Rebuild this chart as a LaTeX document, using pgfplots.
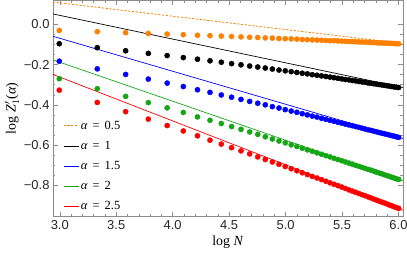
\documentclass[border=0pt]{standalone}
\usepackage{fontspec}
\setmainfont{Liberation Serif}
\newfontfamily\tickfont{Liberation Sans}
\usepackage{pgfplots}
\pgfplotsset{compat=1.18}
\usepackage{pgfplotstable}
\usetikzlibrary{calc}
\definecolor{mOrange}{rgb}{1,0.5,0}
\definecolor{mGreen}{rgb}{0.08,0.65,0.08}
\definecolor{mBlue}{rgb}{0,0,1}
\definecolor{mRed}{rgb}{1,0,0}
\definecolor{frameGray}{gray}{0.55}

\pgfplotstableread{
x O K B G R
2.9957 -0.030 -0.096 -0.183 -0.270 -0.327
3.3322 -0.036 -0.116 -0.221 -0.320 -0.388
3.5835 -0.041 -0.131 -0.249 -0.358 -0.434
3.7842 -0.045 -0.144 -0.272 -0.389 -0.471
3.9512 -0.048 -0.155 -0.292 -0.415 -0.503
4.0943 -0.051 -0.165 -0.309 -0.438 -0.530
4.2195 -0.054 -0.173 -0.325 -0.460 -0.554
4.3307 -0.056 -0.181 -0.338 -0.477 -0.576
4.4308 -0.058 -0.188 -0.351 -0.493 -0.595
4.5218 -0.060 -0.195 -0.362 -0.508 -0.613
4.6052 -0.062 -0.201 -0.373 -0.522 -0.629
4.6821 -0.064 -0.207 -0.383 -0.535 -0.644
4.7536 -0.065 -0.212 -0.392 -0.547 -0.659
4.8203 -0.067 -0.217 -0.400 -0.559 -0.672
4.8828 -0.068 -0.222 -0.409 -0.570 -0.684
4.9416 -0.070 -0.227 -0.416 -0.580 -0.696
4.9972 -0.071 -0.231 -0.424 -0.589 -0.707
5.0499 -0.072 -0.235 -0.431 -0.599 -0.718
5.0999 -0.073 -0.239 -0.437 -0.607 -0.728
5.1475 -0.075 -0.243 -0.444 -0.616 -0.738
5.1930 -0.076 -0.246 -0.450 -0.624 -0.747
5.2364 -0.077 -0.250 -0.456 -0.631 -0.756
5.2781 -0.078 -0.253 -0.461 -0.639 -0.764
5.3181 -0.079 -0.256 -0.467 -0.646 -0.772
5.3566 -0.080 -0.259 -0.472 -0.653 -0.780
5.3936 -0.081 -0.262 -0.477 -0.659 -0.788
5.4293 -0.081 -0.265 -0.482 -0.666 -0.795
5.4638 -0.082 -0.268 -0.487 -0.672 -0.802
5.4972 -0.083 -0.271 -0.491 -0.678 -0.809
5.5294 -0.084 -0.274 -0.496 -0.684 -0.816
5.5607 -0.085 -0.276 -0.500 -0.690 -0.823
5.5910 -0.085 -0.279 -0.504 -0.695 -0.829
5.6204 -0.086 -0.281 -0.508 -0.701 -0.835
5.6490 -0.087 -0.284 -0.512 -0.706 -0.841
5.6768 -0.088 -0.286 -0.516 -0.711 -0.847
5.7038 -0.088 -0.288 -0.520 -0.716 -0.852
5.7301 -0.089 -0.291 -0.524 -0.721 -0.858
5.7557 -0.090 -0.293 -0.527 -0.725 -0.863
5.7807 -0.090 -0.295 -0.531 -0.730 -0.869
5.8051 -0.091 -0.297 -0.534 -0.735 -0.874
5.8289 -0.092 -0.299 -0.538 -0.739 -0.879
5.8522 -0.092 -0.301 -0.541 -0.743 -0.884
5.8749 -0.093 -0.303 -0.544 -0.748 -0.888
5.8972 -0.093 -0.305 -0.547 -0.752 -0.893
5.9189 -0.094 -0.307 -0.550 -0.756 -0.898
5.9402 -0.094 -0.309 -0.553 -0.760 -0.902
5.9610 -0.095 -0.311 -0.556 -0.764 -0.907
5.9814 -0.096 -0.312 -0.559 -0.768 -0.911
6.0014 -0.096 -0.314 -0.562 -0.771 -0.915
}\dotdata

\begin{document}
\begin{tikzpicture}
\begin{axis}[
  scale only axis, width=350bp, height=215.5bp,
  xmin=2.94, xmax=6.04, ymin=-0.953, ymax=0.119,
  axis line style={frameGray, line width=0.5pt},
  tick style={frameGray, line width=0.5pt},
  tick align=inside,
  major tick length=4.5bp, minor tick length=2.5bp,
  xtick={3,3.5,4,4.5,5,5.5,6},
  xticklabels={3.0,3.5,4.0,4.5,5.0,5.5,6.0},
  minor x tick num=4,
  ytick={-0.8,-0.6,-0.4,-0.2,0},
  yticklabels={−0.8,−0.6,−0.4,−0.2,0.0},
  minor y tick num=3,
  ticklabel style={font=\tickfont\fontsize{13}{15}\selectfont, text=black!85},
  xticklabel style={anchor=base, yshift=-13bp},
  xlabel={log \textit{N}},
  ylabel={log \textit{Z}$'_1$(\textit{α})},
  label style={font=\fontsize{14}{16}\selectfont},
  xlabel style={at={(axis description cs:0.5,0)}, anchor=base, yshift=-29bp},
  ylabel style={at={(axis description cs:0,0.5)}, anchor=center, yshift=41bp},
  legend style={at={(axis description cs:0,0)}, anchor=south west, xshift=7bp, yshift=1bp,
    draw=none, fill=none, font=\fontsize{12.5}{14}\selectfont, row sep=6.3bp},
  legend cell align=left,
  legend image code/.code={\draw[#1] (0bp,0bp) -- (15bp,0bp);},
]
\addplot[mOrange, line width=0.8pt, dash pattern=on 2.2pt off 1.6pt] coordinates {(2.94,0.111) (6.04,-0.0946)};
\addlegendentry{\textit{α}\hspace{0.4em}=\hspace{0.4em}0.5}
\addplot[black, line width=0.7pt] coordinates {(2.94,0.0521) (6.04,-0.3137)};
\addlegendentry{\textit{α}\hspace{0.4em}=\hspace{0.4em}1}
\addplot[mBlue, line width=0.7pt] coordinates {(2.94,-0.0592) (6.04,-0.5676)};
\addlegendentry{\textit{α}\hspace{0.4em}=\hspace{0.4em}1.5}
\addplot[mGreen, line width=0.7pt] coordinates {(2.94,-0.1764) (6.04,-0.7778)};
\addlegendentry{\textit{α}\hspace{0.4em}=\hspace{0.4em}2}
\addplot[mRed, line width=0.7pt] coordinates {(2.94,-0.2489) (6.04,-0.9247)};
\addlegendentry{\textit{α}\hspace{0.4em}=\hspace{0.4em}2.5}
\addplot[forget plot, only marks, mark=*, mark size=2.6pt, mOrange] table[x=x,y=O]{\dotdata};
\addplot[forget plot, only marks, mark=*, mark size=2.6pt, black] table[x=x,y=K]{\dotdata};
\addplot[forget plot, only marks, mark=*, mark size=2.6pt, mBlue] table[x=x,y=B]{\dotdata};
\addplot[forget plot, only marks, mark=*, mark size=2.6pt, mGreen] table[x=x,y=G]{\dotdata};
\addplot[forget plot, only marks, mark=*, mark size=2.6pt, mRed] table[x=x,y=R]{\dotdata};
\end{axis}
\pgfresetboundingbox
\path ($(current axis.south west)+(-53bp,-41bp)$) rectangle ($(current axis.north east)+(4bp,0.5bp)$);
\end{tikzpicture}
\end{document}
